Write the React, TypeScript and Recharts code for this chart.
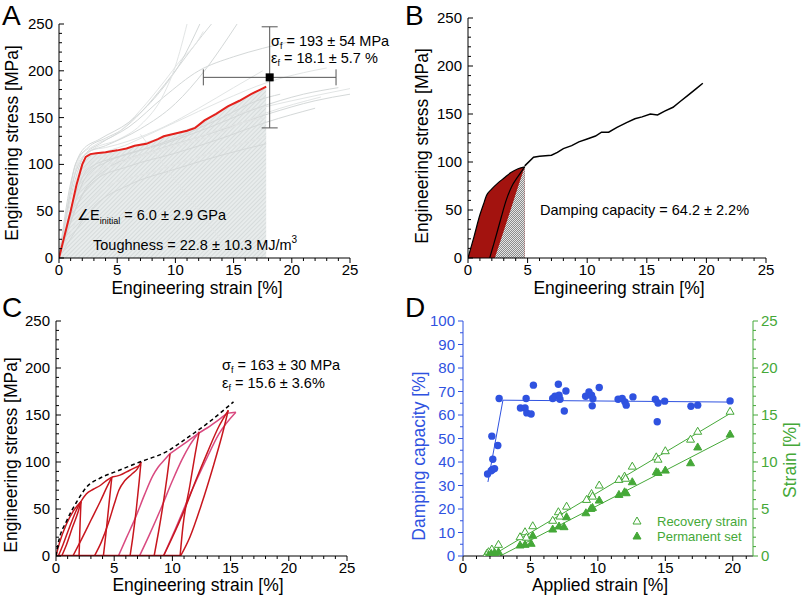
import { ComposedChart, Line, Area, Scatter, XAxis, YAxis, ErrorBar } from 'recharts';

const BLUE = '#2f52e0';
const GREEN = '#45a838';
const RED_A = '#e3211c';
const RED_C = '#c8161e';
const PINK_C = '#d94a80';
const GREY_A = ['#d4d8d8', '#e2e5e5'];

// axis ticks (minor + major) and which ones carry a label
const strainTicks = [0, 1, 2, 3, 4, 5, 6, 7, 8, 9, 10, 11, 12, 13, 14, 15, 16, 17, 18, 19, 20, 21, 22, 23, 24, 25];
const strainLabels = [0, 5, 10, 15, 20, 25];
const stressTicks = [0, 10, 20, 30, 40, 50, 60, 70, 80, 90, 100, 110, 120, 130, 140, 150, 160, 170, 180, 190, 200, 210, 220, 230, 240, 250];
const stressLabels = [0, 50, 100, 150, 200, 250];
const appliedTicks = [0, 1, 2, 3, 4, 5, 6, 7, 8, 9, 10, 11, 12, 13, 14, 15, 16, 17, 18, 19, 20, 21];
const appliedLabels = [0, 5, 10, 15, 20];
const dampingTicks = [0, 5, 10, 15, 20, 25, 30, 35, 40, 45, 50, 55, 60, 65, 70, 75, 80, 85, 90, 95, 100];
const dampingLabels = [0, 10, 20, 30, 40, 50, 60, 70, 80, 90, 100];

type Pt = { x: number; y: number };
const pts = (a: number[][]): Pt[] => a.map(([x, y]) => ({ x, y }));

// ---- panel A: monotonic tensile curves
const redA = pts([[0, 0], [0.5, 25], [1, 50], [1.5, 78], [2, 100], [2.3, 108], [2.7, 111], [3.2, 112], [4, 113], [5, 115], [5.8, 117], [6.5, 120], [7.5, 122], [8.5, 127], [9, 130], [10, 133], [11, 136], [11.7, 139], [12.5, 147], [13.5, 154], [14.5, 162], [15.5, 168], [16.5, 175], [17.3, 180], [17.8, 183]]);

const greyA = [
  pts([[0, 0], [0.8, 60], [1.4, 100], [2.5, 118], [4, 128], [5.4, 137], [7, 155], [8.2, 172], [10, 200], [11.5, 225], [13.1, 250]]),
  pts([[0, 0], [1, 72], [1.8, 108], [3, 120], [5, 133], [7, 158], [9, 188], [10.5, 212], [11.7, 228], [12.4, 242]]),
  pts([[0, 0], [1.2, 75], [2.2, 110], [3.5, 122], [6, 140], [9, 172], [12, 200], [15, 215], [17.5, 224], [19.8, 231]]),
  pts([[0, 0], [1, 52], [2.5, 100], [5, 113], [10, 133], [15, 153], [20, 168], [25, 181]]),
  pts([[0, 0], [2, 68], [4, 94], [8, 114], [13, 133], [18, 154], [22, 168], [25, 175]]),
  pts([[0, 0], [1.5, 70], [3, 105], [6, 122], [10, 145], [14, 168], [18, 188], [21, 198], [23, 203]]),
  pts([[0, 0], [3, 55], [6, 78], [10, 95], [14, 110], [17.8, 122]]),
  pts([[0, 0], [2, 50], [4, 75], [8, 92], [12, 108], [17.8, 130]]),
  pts([[0, 0], [1.5, 55], [3, 82], [6, 98], [10, 112], [14, 128], [17.8, 145], [22, 160]]),
  pts([[0, 0], [1, 45], [2.5, 85], [5, 100], [9, 115], [13, 130], [17.8, 155], [22.5, 172]]),
  pts([[0, 0], [1.2, 60], [2.5, 95], [5, 108], [9, 122], [13, 140], [17, 160], [21, 175], [24, 182]]),
  pts([[0, 0], [0.8, 40], [2, 80], [3.5, 95], [7, 110], [11, 125], [15, 142], [17.8, 150]]),
  pts([[0, 0], [2.5, 90], [4, 102], [7, 115], [10, 128], [14, 150], [17, 168], [19, 175]]),
  pts([[0, 0], [1.8, 95], [2.8, 115], [4, 118], [6, 125], [9, 140], [12, 160], [15, 182], [17.5, 200]]),
  pts([[0, 0], [1, 80], [2, 115], [3.5, 127], [6, 145], [8.5, 175], [10.5, 210], [12.1, 250]]),
  pts([[0, 0], [0.9, 65], [1.8, 105], [3, 117], [5, 126], [7, 142], [9, 175], [10, 205], [11, 250]]),
  pts([[0, 0], [1.4, 90], [2.4, 112], [4, 120], [7, 138], [10, 165], [12.5, 200], [14.5, 235], [15.3, 250]]),
  pts([[7, 132], [15.1, 0]]),
];

const failA = [{ x: 18.1, y: 193, ex: 5.7, ey: 54 }];

// ---- panel B: single loading/unloading cycle then pull to failure
const loadB = pts([[0, 0], [0.5, 22], [1.0, 45], [1.3, 56], [1.55, 65], [2.0, 72], [2.5, 78], [3.0, 83], [3.6, 89], [4.2, 93], [4.76, 95]]);
const reloadB = pts([[2.25, 0], [3.0, 28], [3.7, 55], [4.3, 78], [4.76, 95]]);
const unloadB = pts([[1.82, 0], [2.1, 12], [2.4, 25], [2.8, 43], [3.2, 60], [3.65, 74], [4.2, 85], [4.76, 95]]);
const tailB = pts([[4.76, 96], [5.5, 105], [6.0, 106], [7.0, 107], [7.5, 110], [8.0, 114], [8.7, 117], [9.3, 121], [10.0, 124], [10.7, 127], [11.2, 131], [11.8, 131], [12.5, 136], [13.3, 141], [14.0, 145], [14.6, 147], [15.3, 150], [15.9, 149], [16.5, 153], [17.2, 157], [17.8, 163], [18.5, 170], [19.2, 177], [19.7, 182]]);
const permB = pts([[1.68, 0]]);
const recB = pts([[2.33, 0]]);

// ---- panel C: cyclic loading
const envelopeC = pts([[0, 0], [0.2, 14], [0.9, 37], [1.8, 58], [2.6, 73], [3.8, 83], [5.2, 90], [7.2, 100], [9.5, 111], [11.2, 125], [13, 141], [15.25, 164]]);
const redC = [
  pts([[0, 0], [0.3, 14], [0.9, 34], [1.5, 48], [2.15, 58]]),
  pts([[0.49, 0], [0.9, 12], [1.4, 30], [1.9, 47], [2.15, 58]]),
  pts([[0.2, 0], [0.6, 12], [1.2, 32], [1.8, 50], [2.15, 58], [2.6, 66], [3.2, 71], [3.8, 75], [4.3, 80], [4.8, 84]]),
  pts([[1.98, 0], [2.02, 15], [2.07, 35], [2.12, 50], [2.15, 58]]),
  pts([[1.45, 0], [2.2, 18], [3.0, 38], [3.8, 58], [4.4, 74], [4.8, 84]]),
  pts([[4.07, 0], [4.3, 25], [4.55, 55], [4.72, 75], [4.8, 84]]),
  pts([[3.3, 0], [3.9, 15], [4.5, 35], [5.0, 55], [5.4, 70], [5.9, 80], [6.5, 87], [7.0, 93], [7.3, 100]]),
  pts([[6.36, 0], [6.6, 20], [6.9, 50], [7.15, 80], [7.3, 100]]),
  pts([[8.43, 0], [8.8, 25], [9.2, 55], [9.55, 85], [9.8, 109]]),
  pts([[10.66, 0], [10.9, 31], [11.5, 75], [11.95, 108], [12.3, 132]]),
  pts([[9.23, 0], [10.0, 20], [11.0, 48], [12.0, 80], [13.0, 110], [14.0, 138], [14.8, 155]]),
  pts([[10.7, 0], [11.5, 20], [12.5, 55], [13.5, 95], [14.3, 130], [14.8, 155]]),
  pts([[4.8, 84], [5.5, 86], [6.3, 91], [7.3, 97]]),
];
const pinkC = [
  pts([[5.36, 0], [6.0, 18], [6.8, 40], [7.6, 65], [8.3, 85], [8.8, 95], [9.3, 102], [9.8, 109]]),
  pts([[7.17, 0], [8.0, 22], [9.0, 50], [10.0, 80], [10.8, 102], [11.5, 118], [12.3, 132]]),
  pts([[9.23, 0], [10.3, 30], [11.5, 65], [12.8, 100], [14.0, 130], [15.45, 153]]),
  pts([[9.8, 109], [10.5, 115], [11.3, 122], [12.3, 131], [13.2, 138], [14.0, 145], [14.8, 152], [15.45, 153]]),
];
const baseC = pts([[0, 0], [10.7, 0]]);
const permC = pts([[0.2, 0], [1.45, 0], [3.3, 0], [5.36, 0], [7.17, 0], [9.23, 0]]);
const recC = pts([[0.49, 0], [1.98, 0], [4.07, 0], [6.36, 0], [8.43, 0], [10.66, 0]]);

// ---- panel D: damping capacity and strains vs applied strain
const damping = pts([[1.82, 34.9], [2.09, 36.3], [2.19, 36.8], [2.34, 37.2], [2.14, 51], [2.21, 41.2], [2.58, 47], [2.68, 67], [4.26, 63], [4.68, 67], [4.6, 63], [4.73, 60.9], [5.05, 60.4], [5.22, 72.7], [6.65, 67], [6.82, 68], [7.07, 73.1], [7.12, 68.4], [7.19, 66.7], [7.51, 61.7], [7.63, 70.2], [9.09, 68], [9.34, 69.8], [9.53, 68.4], [9.58, 63.9], [9.63, 66.9], [10.1, 71.7], [11.5, 66.7], [11.8, 67], [12.0, 65.6], [12.1, 64.2], [12.6, 67.7], [14.26, 66.7], [14.4, 57.1], [14.46, 65.1], [14.95, 65.9], [16.9, 63.7], [17.4, 64.2], [19.8, 66]]);
const dampingFit = pts([[1.85, 31.5], [2.96, 66.3], [19.8, 65.5]]);
const recovery = pts([[1.77, 0.28], [1.89, 0.46], [2.14, 0.74], [2.63, 1.24], [4.23, 2.05], [4.6, 2.58], [4.7, 2.0], [5.17, 3.22], [6.65, 3.8], [7.07, 4.71], [7.19, 4.25], [7.68, 5.3], [9.16, 6.02], [9.53, 6.65], [9.6, 6.37], [10.1, 7.55], [11.56, 8.15], [11.98, 8.5], [12.05, 8.27], [12.55, 9.56], [14.33, 10.55], [14.46, 10.3], [15.0, 11.2], [16.87, 12.43], [17.4, 13.27], [19.8, 15.4]]);
const permanent = pts([[1.89, 0.1], [2.09, 0.28], [2.34, 0.39], [2.63, 0.46], [4.23, 1.17], [4.6, 1.24], [5.05, 1.35], [5.17, 2.2], [6.65, 2.87], [7.12, 3.19], [7.49, 3.12], [7.68, 4.18], [9.11, 4.6], [9.48, 5.06], [9.6, 5.17], [10.1, 5.95], [11.56, 6.55], [11.98, 6.83], [12.1, 6.73], [12.55, 7.9], [14.33, 8.96], [14.46, 8.89], [15.0, 9.14], [16.87, 9.92], [17.4, 11.6], [19.8, 12.97]]);
const recoveryFit = pts([[2.1, 0], [19.85, 15.2]]);
const permanentFit = pts([[2.75, 0], [19.85, 12.7]]);

function makeTick(side: 'left' | 'right' | 'bottom', labels: number[], color: string, inward: boolean) {
  return (p: any) => {
    const { x, y, payload } = p;
    const v = payload.value;
    const major = labels.includes(v);
    const len = major ? 5 : 3;
    if (side === 'bottom') {
      return (
        <g>
          <line x1={x} y1={y} x2={x} y2={y + len} stroke={color} />
          {major && <text x={x} y={y + 17} textAnchor="middle" fill={color} fontSize={15}>{v}</text>}
        </g>
      );
    }
    const dir = side === 'left' ? (inward ? 1 : -1) : inward ? -1 : 1;
    const gap = inward ? 6 : 8;
    return (
      <g>
        <line x1={x} y1={y} x2={x + dir * len} y2={y} stroke={color} />
        {major && (
          <text x={side === 'left' ? x - gap : x + gap} y={y + 5} textAnchor={side === 'left' ? 'end' : 'start'} fill={color} fontSize={15}>{v}</text>
        )}
      </g>
    );
  };
}

const triangle = (w: number, h: number, dy: number, filled: boolean) => (p: any) => {
  const { cx, cy } = p;
  const top = cy + dy;
  return <path d={`M${cx},${top}L${cx + w / 2},${top + h}L${cx - w / 2},${top + h}Z`} fill={filled ? GREEN : '#fff'} stroke={GREEN} strokeWidth={1} />;
};
const dot = (p: any) => <circle cx={p.cx} cy={p.cy} r={3.7} fill={BLUE} />;

// an axis must be at least 1px deep or Recharts skips drawing it
const axisCommon = { type: 'number' as const, allowDataOverflow: true, interval: 0 as const, tickSize: 0, tickMargin: 0, tickLine: false };

function PanelA() {
  return (
    <ComposedChart width={401} height={297} margin={{ top: 24, right: 51, bottom: 38, left: 58 }}>
      <defs>
        <pattern id="hatchA" width="3" height="3" patternUnits="userSpaceOnUse" patternTransform="rotate(45)">
          <rect width="3" height="3" fill="#e8ecec" />
          <line x1="0" y1="0" x2="0" y2="3" stroke="#c4caca" strokeWidth="1" />
        </pattern>
      </defs>
      <XAxis {...axisCommon} dataKey="x" domain={[0, 25]} ticks={strainTicks} height={1} axisLine={{ stroke: '#000' }} tick={makeTick('bottom', strainLabels, '#000', false)} />
      <YAxis {...axisCommon} domain={[0, 250]} ticks={stressTicks} width={1} axisLine={{ stroke: '#000' }} tick={makeTick('left', stressLabels, '#000', true)} />
      <Area data={redA} dataKey="y" type="linear" fill="url(#hatchA)" fillOpacity={1} stroke="none" isAnimationActive={false} />
      {greyA.map((c, i) => (
        <Line key={i} data={c} dataKey="y" type="monotone" stroke={GREY_A[i % 2]} strokeWidth={1} dot={false} isAnimationActive={false} />
      ))}
      <Line data={redA} dataKey="y" type="linear" stroke={RED_A} strokeWidth={2} dot={false} isAnimationActive={false} />
      <Scatter data={failA} dataKey="y" shape="square" fill="#000" isAnimationActive={false}>
        <ErrorBar dataKey="ex" direction="x" width={8} stroke="#555" strokeWidth={1} />
        <ErrorBar dataKey="ey" direction="y" width={8} stroke="#555" strokeWidth={1} />
      </Scatter>
    </ComposedChart>
  );
}

function PanelB() {
  return (
    <ComposedChart width={401} height={297} margin={{ top: 18, right: 36, bottom: 38, left: 66 }}>
      <defs>
        <pattern id="hatchB" width="2" height="2" patternUnits="userSpaceOnUse">
          <rect width="2" height="2" fill="#e4e4e4" />
          <rect width="1" height="1" fill="#8c8c8c" />
          <rect x="1" y="1" width="1" height="1" fill="#8c8c8c" />
        </pattern>
      </defs>
      <XAxis {...axisCommon} dataKey="x" domain={[0, 25]} ticks={strainTicks} height={1} axisLine={{ stroke: '#000' }} tick={makeTick('bottom', strainLabels, '#000', false)} />
      <YAxis {...axisCommon} domain={[0, 250]} ticks={stressTicks} width={1} axisLine={{ stroke: '#000' }} tick={makeTick('left', stressLabels, '#000', true)} />
      <Area data={loadB} dataKey="y" type="monotone" fill="#a3130f" fillOpacity={1} stroke="#000" strokeWidth={1.2} isAnimationActive={false} />
      <Area data={reloadB} dataKey="y" type="linear" fill="url(#hatchB)" fillOpacity={1} stroke="none" isAnimationActive={false} />
      <Line data={unloadB} dataKey="y" type="monotone" stroke="#000" strokeWidth={1.2} dot={false} isAnimationActive={false} />
      <Line data={tailB} dataKey="y" type="linear" stroke="#000" strokeWidth={1.5} dot={false} isAnimationActive={false} />
      <Scatter data={permB} dataKey="y" shape={triangle(8, 8, 1.5, true)} isAnimationActive={false} />
      <Scatter data={recB} dataKey="y" shape={triangle(8, 8, 1.5, false)} isAnimationActive={false} />
    </ComposedChart>
  );
}

function PanelC() {
  return (
    <ComposedChart width={401} height={297} margin={{ top: 24, right: 54, bottom: 37, left: 55 }}>
      <XAxis {...axisCommon} dataKey="x" domain={[0, 25]} ticks={strainTicks} height={1} axisLine={{ stroke: '#000' }} tick={makeTick('bottom', strainLabels, '#000', false)} />
      <YAxis {...axisCommon} domain={[0, 250]} ticks={stressTicks} width={1} axisLine={{ stroke: '#000' }} tick={makeTick('left', stressLabels, '#000', true)} />
      {pinkC.map((c, i) => (
        <Line key={'p' + i} data={c} dataKey="y" type="monotone" stroke={PINK_C} strokeWidth={1.5} dot={false} isAnimationActive={false} />
      ))}
      {redC.map((c, i) => (
        <Line key={'r' + i} data={c} dataKey="y" type="monotone" stroke={RED_C} strokeWidth={1.5} dot={false} isAnimationActive={false} />
      ))}
      <Line data={baseC} dataKey="y" type="linear" stroke={RED_C} strokeWidth={2.5} dot={false} isAnimationActive={false} />
      <Line data={envelopeC} dataKey="y" type="monotone" stroke="#000" strokeWidth={1.5} strokeDasharray="4 3" dot={false} isAnimationActive={false} />
      <Scatter data={permC} dataKey="y" shape={triangle(5, 5, 0, true)} isAnimationActive={false} />
      <Scatter data={recC} dataKey="y" shape={triangle(5, 5, 0, false)} isAnimationActive={false} />
    </ComposedChart>
  );
}

function PanelD() {
  return (
    <ComposedChart width={401} height={297} margin={{ top: 24, right: 48, bottom: 37, left: 61 }}>
      <XAxis {...axisCommon} dataKey="x" domain={[0, 21.5]} ticks={appliedTicks} height={1} axisLine={{ stroke: '#000' }} tick={makeTick('bottom', appliedLabels, '#000', false)} />
      <YAxis {...axisCommon} yAxisId="left" domain={[0, 100]} ticks={dampingTicks} width={1} axisLine={{ stroke: BLUE }} tick={makeTick('left', dampingLabels, BLUE, false)} />
      <YAxis {...axisCommon} yAxisId="right" orientation="right" domain={[0, 25]} ticks={strainTicks} width={1} axisLine={{ stroke: GREEN }} tick={makeTick('right', strainLabels, GREEN, false)} />
      <Line yAxisId="left" data={dampingFit} dataKey="y" type="linear" stroke={BLUE} strokeWidth={1} dot={false} isAnimationActive={false} />
      <Line yAxisId="right" data={recoveryFit} dataKey="y" type="linear" stroke={GREEN} strokeWidth={1} dot={false} isAnimationActive={false} />
      <Line yAxisId="right" data={permanentFit} dataKey="y" type="linear" stroke={GREEN} strokeWidth={1} dot={false} isAnimationActive={false} />
      <Scatter yAxisId="left" data={damping} dataKey="y" shape={dot} isAnimationActive={false} />
      <Scatter yAxisId="right" data={recovery} dataKey="y" shape={triangle(8, 7, -4, false)} isAnimationActive={false} />
      <Scatter yAxisId="right" data={permanent} dataKey="y" shape={triangle(8, 7, -4, true)} isAnimationActive={false} />
    </ComposedChart>
  );
}

function Texts() {
  const sub = { fontSize: 9 };
  return (
    <svg width={802} height={595} style={{ position: 'absolute', left: 0, top: 0, pointerEvents: 'none' }}>
      <g fontSize={28} fill="#000">
        <text x={2} y={25}>A</text>
        <text x={405} y={25}>B</text>
        <text x={2} y={317}>C</text>
        <text x={405} y={317}>D</text>
      </g>
      <g fontSize={17.5} fill="#000" textAnchor="middle">
        <text x={197} y={294}>Engineering strain [%]</text>
        <text transform="translate(18,143) rotate(-90)">Engineering stress [MPa]</text>
        <text x={619} y={294}>Engineering strain [%]</text>
        <text transform="translate(428,146) rotate(-90)">Engineering stress [MPa]</text>
        <text x={198} y={591}>Engineering strain [%]</text>
        <text transform="translate(17,455) rotate(-90)">Engineering stress [MPa]</text>
        <text x={600} y={591}>Applied strain [%]</text>
        <text transform="translate(425,456) rotate(-90)" fill={BLUE}>Damping capacity [%]</text>
        <text transform="translate(796,460) rotate(-90)" fill={GREEN}>Strain [%]</text>
      </g>
      <g fontSize={14.5} fill="#000">
        <text x={271} y={46}>σ<tspan {...sub} dy={3}>f</tspan><tspan dy={-3}> = 193 ± 54 MPa</tspan></text>
        <text x={271} y={63}>ε<tspan {...sub} dy={3}>f</tspan><tspan dy={-3}> = 18.1 ± 5.7 %</tspan></text>
        <text x={77} y={220}>∠E<tspan fontSize={9} dy={4}>initial</tspan><tspan dy={-4}> = 6.0 ± 2.9 GPa</tspan></text>
        <text x={93} y={250}>Toughness = 22.8 ± 10.3 MJ/m<tspan fontSize={10} dy={-7}>3</tspan></text>
        <text x={540} y={215}>Damping capacity = 64.2 ± 2.2%</text>
        <text x={222} y={370}>σ<tspan {...sub} dy={3}>f</tspan><tspan dy={-3}> = 163 ± 30 MPa</tspan></text>
        <text x={222} y={388}>ε<tspan {...sub} dy={3}>f</tspan><tspan dy={-3}> = 15.6 ± 3.6%</tspan></text>
      </g>
      <g fill={GREEN} fontSize={13}>
        <path d="M637,517L641,524L633,524Z" fill="#fff" stroke={GREEN} />
        <text x={657} y={526}>Recovery strain</text>
        <path d="M637,532L641,539L633,539Z" fill={GREEN} stroke={GREEN} />
        <text x={657} y={541}>Permanent set</text>
      </g>
    </svg>
  );
}

export default function App() {
  return (
    <div style={{ position: 'absolute', left: 0, top: 0, width: 802, height: 595, background: '#fff', fontFamily: '"Liberation Sans", Arial, sans-serif' }}>
      <div style={{ position: 'absolute', left: 0, top: 0 }}><PanelA /></div>
      <div style={{ position: 'absolute', left: 401, top: 0 }}><PanelB /></div>
      <div style={{ position: 'absolute', left: 0, top: 297 }}><PanelC /></div>
      <div style={{ position: 'absolute', left: 401, top: 297 }}><PanelD /></div>
      <Texts />
    </div>
  );
}
